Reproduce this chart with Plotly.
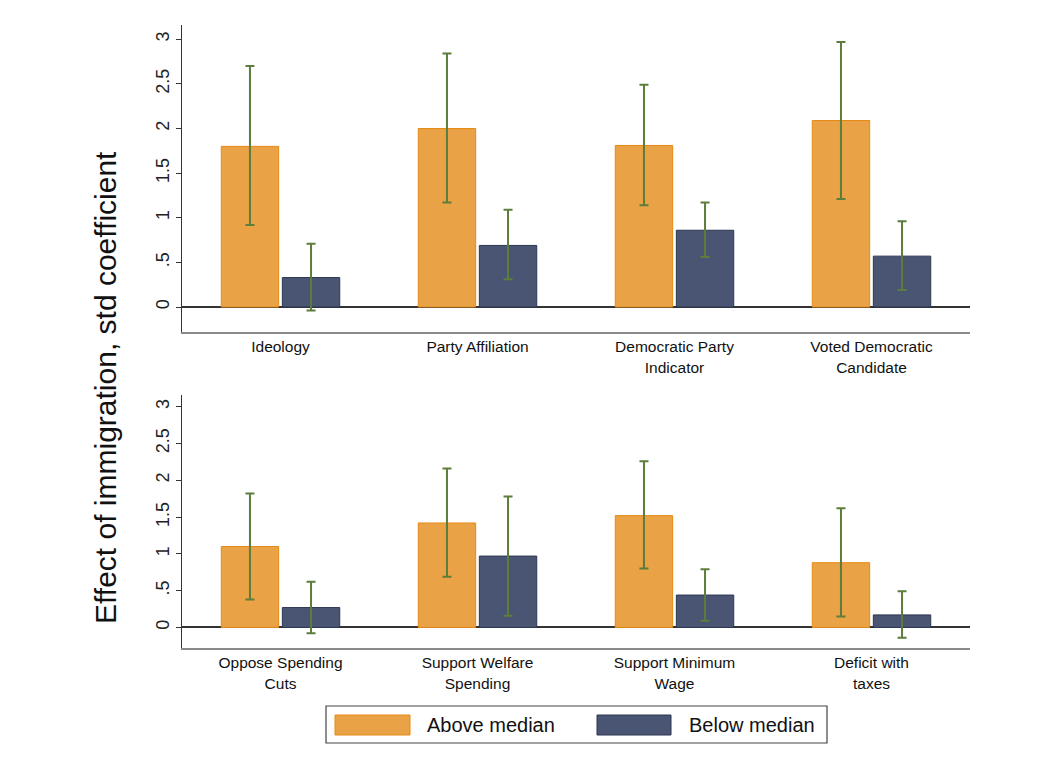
import plotly.graph_objects as go

# ---------------- data ----------------
series_names = ["Above median", "Below median"]

top_cats = ["Ideology", "Party Affiliation", "Democratic Party<br>Indicator", "Voted Democratic<br>Candidate"]
top_above = [1.80, 2.00, 1.81, 2.09]
top_above_lo = [0.92, 1.17, 1.14, 1.21]
top_above_hi = [2.70, 2.84, 2.49, 2.97]
top_below = [0.33, 0.69, 0.86, 0.57]
top_below_lo = [-0.04, 0.31, 0.56, 0.19]
top_below_hi = [0.71, 1.09, 1.17, 0.96]

bot_cats = ["Oppose Spending<br>Cuts", "Support Welfare<br>Spending", "Support Minimum<br>Wage", "Deficit with<br>taxes"]
bot_above = [1.10, 1.42, 1.52, 0.88]
bot_above_lo = [0.38, 0.69, 0.80, 0.15]
bot_above_hi = [1.82, 2.16, 2.26, 1.62]
bot_below = [0.27, 0.97, 0.44, 0.17]
bot_below_lo = [-0.08, 0.16, 0.09, -0.14]
bot_below_hi = [0.62, 1.78, 0.79, 0.49]

y_tickvals = [0, 0.5, 1, 1.5, 2, 2.5, 3]
y_ticktext = ["0", ".5", "1", "1.5", "2", "2.5", "3"]
y_title = "Effect of immigration, std coefficient"

# ---------------- style ----------------
OFF = 8                      # default page body margin
W, H = 1057 - 2 * OFF, 769 - 2 * OFF
ORANGE, ORANGE_LINE = "#EAA246", "#E58A14"
NAVY, NAVY_LINE = "#4A5573", "#2D3752"
ERR = "#5C7D3B"
FONT = "Liberation Sans, Arial, sans-serif"


def px_x(p):
    return (p - OFF) / W


def px_y(p):
    return 1 - (p - OFF) / H


def err(vals, lo, hi):
    return dict(type="data", symmetric=False,
                array=[h - v for v, h in zip(vals, hi)],
                arrayminus=[v - l for v, l in zip(vals, lo)],
                color=ERR, thickness=2, width=4.5)


fig = go.Figure()
panels = [
    ("x", "y", top_cats, top_above, top_above_lo, top_above_hi, top_below, top_below_lo, top_below_hi),
    ("x2", "y2", bot_cats, bot_above, bot_above_lo, bot_above_hi, bot_below, bot_below_lo, bot_below_hi),
]
for xa, ya, cats, a, alo, ahi, b, blo, bhi in panels:
    fig.add_trace(go.Bar(x=cats, y=a, name=series_names[0], xaxis=xa, yaxis=ya,
                         marker=dict(color=ORANGE, line=dict(color=ORANGE_LINE, width=1)),
                         error_y=err(a, alo, ahi), showlegend=False))
    fig.add_trace(go.Bar(x=cats, y=b, name=series_names[1], xaxis=xa, yaxis=ya,
                         marker=dict(color=NAVY, line=dict(color=NAVY_LINE, width=1)),
                         error_y=err(b, blo, bhi), showlegend=False))

xdom = [px_x(182), px_x(970)]
xaxis_common = dict(domain=xdom, range=[-0.5, 3.5], showline=True, linecolor="#8a8a8a",
                    linewidth=1.5, ticks="", showgrid=False, zeroline=False,
                    tickfont=dict(family=FONT, size=15.5, color="#111"), fixedrange=True)
yaxis_common = dict(range=[-0.28, 3.16], tickvals=y_tickvals, ticktext=y_ticktext,
                    showline=True, linecolor="#333", linewidth=1.3, ticks="outside",
                    ticklen=5, tickcolor="#333", tickwidth=1.2, tickangle=-90,
                    showgrid=False, zeroline=True, zerolinecolor="#333", zerolinewidth=1.6,
                    tickfont=dict(family=FONT, size=18, color="#222"), fixedrange=True)

fig.update_layout(
    width=W, height=H,
    margin=dict(l=0, r=0, t=0, b=0),
    paper_bgcolor="white", plot_bgcolor="white",
    barmode="group", bargap=0.38, bargroupgap=0.06,
    xaxis=dict(anchor="y", **xaxis_common),
    yaxis=dict(anchor="x", domain=[px_y(332), px_y(25)], **yaxis_common),
    xaxis2=dict(anchor="y2", **xaxis_common),
    yaxis2=dict(anchor="x2", domain=[px_y(648), px_y(395)], **yaxis_common),
    font=dict(family=FONT, color="#111"),
)

# y-axis title shared by both panels
fig.add_annotation(x=px_x(105), y=px_y(388), xref="paper", yref="paper",
                   xanchor="center", yanchor="middle",
                   text=y_title, textangle=-90, showarrow=False,
                   font=dict(family=FONT, size=30, color="#111"))

# legend box (drawn like the original)
fig.add_shape(type="rect", xref="paper", yref="paper",
              x0=px_x(326), x1=px_x(827), y0=px_y(743), y1=px_y(706),
              line=dict(color="#444", width=1.2), fillcolor="white")
legend_items = [(series_names[0], ORANGE, ORANGE_LINE, 335, 410, 425),
                (series_names[1], NAVY, NAVY_LINE, 597, 671, 687)]
for name, fill, line, s0, s1, tx in legend_items:
    fig.add_shape(type="rect", xref="paper", yref="paper",
                  x0=px_x(s0), x1=px_x(s1), y0=px_y(735), y1=px_y(715),
                  line=dict(color=line, width=1), fillcolor=fill)
    fig.add_annotation(x=px_x(tx), y=px_y(725), xref="paper", yref="paper",
                       text=name, showarrow=False, xanchor="left", yanchor="middle",
                       font=dict(family=FONT, size=20, color="#111"))

fig.write_html("out.html", config={"displayModeBar": False})
